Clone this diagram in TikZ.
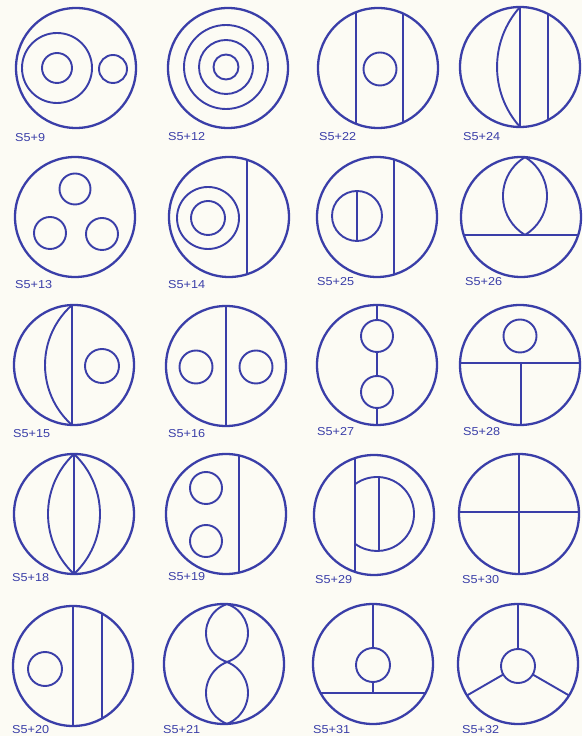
\documentclass[tikz,border=0pt]{standalone}
\usepackage{fontspec}
\setmainfont{Liberation Sans}
\definecolor{ink}{RGB}{58,62,168}
\definecolor{paper}{RGB}{252,251,244}
\begin{document}
\begin{tikzpicture}[x=1pt,y=1pt,
  outer/.style={draw=ink, line width=2.3pt},
  inner/.style={draw=ink, line width=1.9pt},
  lab/.style={anchor=west, inner sep=0pt, text=ink, xscale=1.1, font=\fontsize{11.5}{11.5}\selectfont}]
\fill[paper] (0,0) rectangle (582,736);
\useasboundingbox (0,0) rectangle (582,736);

% ---------- row 1 ----------
\begin{scope}[shift={(76,668)}]
  \coordinate (c1) at (0,0);
  \draw[inner] (-19,0) circle (35) (-19,0) circle (15) (37,-1) circle (14);
  \draw[outer] (c1) circle (60);
\end{scope}
\begin{scope}[shift={(228,668)}]
  \coordinate (c2) at (0,0);
  \draw[inner] (-2,1) circle (42) (-2,1) circle (27) (-2,1) circle (12.5);
  \draw[outer] (c2) circle (60);
\end{scope}
\begin{scope}[shift={(378,668)}]
  \coordinate (c3) at (0,0);
  \begin{scope}\clip (0,0) circle (60);
    \draw[inner] (-22,70) -- (-22,-70) (25,70) -- (25,-70);
  \end{scope}
  \draw[inner] (2,-1) circle (16.5);
  \draw[outer] (c3) circle (60);
\end{scope}
\begin{scope}[shift={(520,669)}]
  \coordinate (c4) at (0,0);
  \begin{scope}\clip (0,0) circle (60);
    \draw[inner] (0,70) -- (0,-70) (28,70) -- (28,-70);
  \end{scope}
  \draw[inner] (0,60) arc[start angle=138.1, end angle=221.9, radius=89.8];
  \draw[outer] (c4) circle (60);
\end{scope}

% ---------- row 2 ----------
\begin{scope}[shift={(75,519)}]
  \coordinate (c5) at (0,0);
  \draw[inner] (0,28) circle (15.5) (-25,-16) circle (16) (27,-17) circle (16);
  \draw[outer] (c5) circle (60);
\end{scope}
\begin{scope}[shift={(229,519)}]
  \coordinate (c6) at (0,0);
  \begin{scope}\clip (0,0) circle (60);
    \draw[inner] (18,70) -- (18,-70);
  \end{scope}
  \draw[inner] (-21,-1) circle (31) (-21,-1) circle (17);
  \draw[outer] (c6) circle (60);
\end{scope}
\begin{scope}[shift={(377,519)}]
  \coordinate (c7) at (0,0);
  \begin{scope}\clip (0,0) circle (60);
    \draw[inner] (17,70) -- (17,-70);
  \end{scope}
  \draw[inner] (-20,1) circle (25) (-20,26) -- (-20,-24);
  \draw[outer] (c7) circle (60);
\end{scope}
\begin{scope}[shift={(521,519)}]
  \coordinate (c8) at (0,0);
  \begin{scope}\clip (0,0) circle (60);
    \draw[inner] (-70,-18) -- (70,-18);
  \end{scope}
  \draw[inner] (4,59.87) arc[start angle=121, end angle=239, radius=45.4];
  \draw[inner] (4,59.87) arc[start angle=59, end angle=-59, radius=45.4];
  \draw[outer] (c8) circle (60);
\end{scope}

% ---------- row 3 ----------
\begin{scope}[shift={(74,371)}]
  \coordinate (c9) at (0,0);
  \begin{scope}\clip (0,0) circle (60);
    \draw[inner] (-2,70) -- (-2,-70);
  \end{scope}
  \draw[inner] (-2,59.97) arc[start angle=131.55, end angle=228.45, radius=80.17];
  \draw[inner] (28,-1) circle (17);
  \draw[outer] (c9) circle (60);
\end{scope}
\begin{scope}[shift={(226,370)}]
  \coordinate (c10) at (0,0);
  \draw[inner] (0,60) -- (0,-60);
  \draw[inner] (-30,-1) circle (16.5) (30,-1) circle (16.5);
  \draw[outer] (c10) circle (60);
\end{scope}
\begin{scope}[shift={(377,371)}]
  \coordinate (c11) at (0,0);
  \draw[inner] (0,29) circle (16) (0,-27) circle (16);
  \draw[inner] (0,60) -- (0,45) (0,13) -- (0,-11) (0,-43) -- (0,-60);
  \draw[outer] (c11) circle (60);
\end{scope}
\begin{scope}[shift={(520,371)}]
  \coordinate (c12) at (0,0);
  \begin{scope}\clip (0,0) circle (60);
    \draw[inner] (-70,2) -- (70,2) (1,2) -- (1,-70);
  \end{scope}
  \draw[inner] (0,29) circle (16.5);
  \draw[outer] (c12) circle (60);
\end{scope}

% ---------- row 4 ----------
\begin{scope}[shift={(74,222)}]
  \coordinate (c13) at (0,0);
  \draw[inner] (0,60) -- (0,-60);
  \draw[inner] (0,60) arc[start angle=133.14, end angle=226.86, radius=82.23];
  \draw[inner] (0,60) arc[start angle=46.86, end angle=-46.86, radius=82.23];
  \draw[outer] (c13) circle (60);
\end{scope}
\begin{scope}[shift={(226,222)}]
  \coordinate (c14) at (0,0);
  \begin{scope}\clip (0,0) circle (60);
    \draw[inner] (13,70) -- (13,-70);
  \end{scope}
  \draw[inner] (-20,26) circle (16) (-20,-27) circle (16);
  \draw[outer] (c14) circle (60);
\end{scope}
\begin{scope}[shift={(374,221)}]
  \coordinate (c15) at (0,0);
  \begin{scope}\clip (0,0) circle (60);
    \draw[inner] (-19,70) -- (-19,-70);
  \end{scope}
  \draw[inner] (-19,30.74) arc[start angle=126.5, end angle=-126.5, radius=37];
  \draw[inner] (5,37.95) -- (5,-35.95);
  \draw[outer] (c15) circle (60);
\end{scope}
\begin{scope}[shift={(519,222)}]
  \coordinate (c16) at (0,0);
  \begin{scope}\clip (0,0) circle (60);
    \draw[inner] (0,70) -- (0,-70) (-70,2) -- (70,2);
  \end{scope}
  \draw[outer] (c16) circle (60);
\end{scope}

% ---------- row 5 ----------
\begin{scope}[shift={(73,70)}]
  \coordinate (c17) at (0,0);
  \begin{scope}\clip (0,0) circle (60);
    \draw[inner] (0,70) -- (0,-70) (29,70) -- (29,-70);
  \end{scope}
  \draw[inner] (-28,-3) circle (17);
  \draw[outer] (c17) circle (60);
\end{scope}
\begin{scope}[shift={(224,72)}]
  \coordinate (c18) at (0,0);
  \draw[inner] (3,59.92) arc[start angle=108.1, end angle=251.9, radius=30.45];
  \draw[inner] (3,59.92) arc[start angle=71.9, end angle=-71.9, radius=30.45];
  \draw[inner] (3,2) arc[start angle=111.7, end angle=248.3, radius=33.31];
  \draw[inner] (3,2) arc[start angle=68.3, end angle=-68.3, radius=33.31];
  \draw[outer] (c18) circle (60);
\end{scope}
\begin{scope}[shift={(373,72)}]
  \coordinate (c19) at (0,0);
  \begin{scope}\clip (0,0) circle (60);
    \draw[inner] (-70,-29) -- (70,-29) (0,70) -- (0,16);
  \end{scope}
  \draw[inner] (0,-1) circle (17) (0,-18) -- (0,-29);
  \draw[outer] (c19) circle (60);
\end{scope}
\begin{scope}[shift={(518,72)}]
  \coordinate (c20) at (0,0);
  \begin{scope}\clip (0,0) circle (60);
    \draw[inner] ([shift={(0,-2)}]90:17) -- ([shift={(0,-2)}]90:80)
                 ([shift={(0,-2)}]210:17) -- ([shift={(0,-2)}]210:80)
                 ([shift={(0,-2)}]330:17) -- ([shift={(0,-2)}]330:80);
  \end{scope}
  \draw[inner] (0,-2) circle (17);
  \draw[outer] (c20) circle (60);
\end{scope}

% ---------- labels ----------
\node[lab] (l1)  at (15,598)  {S5+9};
\node[lab] (l2)  at (168,599) {S5+12};
\node[lab] (l3)  at (319,599) {S5+22};
\node[lab] (l4)  at (463,599) {S5+24};
\node[lab] (l5)  at (15,451)  {S5+13};
\node[lab] (l6)  at (168,451) {S5+14};
\node[lab] (l7)  at (317,454) {S5+25};
\node[lab] (l8)  at (465,454) {S5+26};
\node[lab] (l9)  at (13,302)  {S5+15};
\node[lab] (l10) at (168,302) {S5+16};
\node[lab] (l11) at (317,304) {S5+27};
\node[lab] (l12) at (463,304) {S5+28};
\node[lab] (l13) at (12,158)  {S5+18};
\node[lab] (l14) at (168,159) {S5+19};
\node[lab] (l15) at (315,156) {S5+29};
\node[lab] (l16) at (462,156) {S5+30};
\node[lab] (l17) at (12,6.5)  {S5+20};
\node[lab] (l18) at (163,6.5) {S5+21};
\node[lab] (l19) at (313,6.5) {S5+31};
\node[lab] (l20) at (462,6.5) {S5+32};
\end{tikzpicture}
\end{document}
